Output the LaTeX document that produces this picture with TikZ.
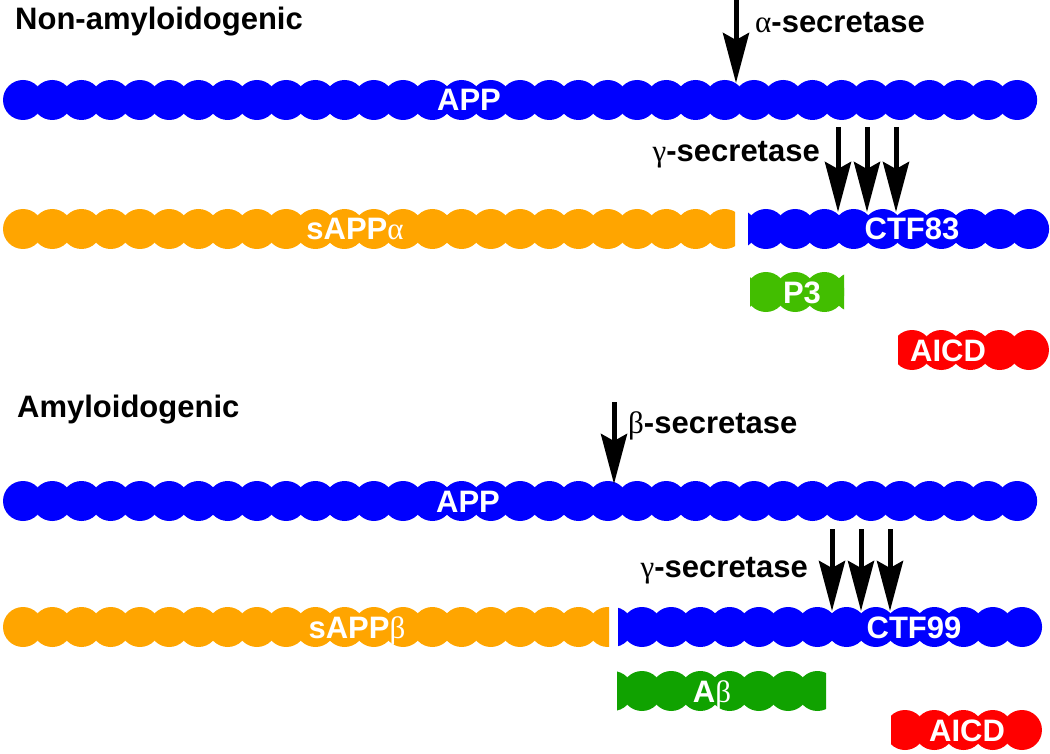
\documentclass[tikz,border=0pt]{standalone}
\usepackage{fontspec}
\setsansfont{Liberation Sans}
\newfontfamily\greekfont{Liberation Serif}
\usepackage{xcolor}
\usepackage{tikz}
\usetikzlibrary{arrows.meta}

\definecolor{appblue}{RGB}{0,0,255}
\definecolor{sappor}{RGB}{255,165,0}
\definecolor{ptgreen}{RGB}{66,190,0}
\definecolor{abgreen}{RGB}{16,162,0}
\definecolor{aicdred}{RGB}{255,0,0}

\newcommand{\gk}[1]{{\greekfont\mdseries #1}}
% colour, y, first bead x, beads, clip left, clip right
\newcommand{\beadrow}[6]{%
	\begin{scope}
		\clip (#5,{#2-22}) rectangle (#6,{#2+22});
		\foreach \k in {1,...,#4}
			\fill[#1] ({#3+(\k-1)*29.24},#2) circle (20pt);
	\end{scope}}

\begin{document}
\begin{tikzpicture}[x=1pt,y=-1pt,
				chainlbl/.style={
					text=white, anchor=base, inner sep=0pt,
					font=\sffamily\bfseries\fontsize{31}{36}\selectfont
				},
				headlbl/.style={
					text=black, inner sep=0pt,
					font=\sffamily\bfseries\fontsize{31}{36}\selectfont
				},
				cut/.style={
					line width=5pt, -{Stealth[length=50pt,width=26pt,inset=7pt]}
				}
				]
				\useasboundingbox (0,0) rectangle (1050,754);
				
				\beadrow{appblue}{100}{23}{35}{0}{1050}
				\beadrow{sappor}{229}{23}{25}{0}{735}
				\beadrow{appblue}{229}{736.7}{11}{748}{1050}
				\beadrow{ptgreen}{292}{736.7}{5}{750}{844}
				\beadrow{aicdred}{350}{912}{5}{898}{1050}
				
				\beadrow{appblue}{501}{23}{35}{0}{1050}
				\beadrow{sappor}{627}{23}{21}{0}{609}
				\beadrow{appblue}{627}{612.7}{15}{618}{1050}
				\beadrow{abgreen}{691}{612.7}{9}{617}{826}
				\beadrow{aicdred}{730}{905}{5}{891}{1050}
				
				\node[headlbl, anchor=base west] (nonamy) at (15,30) {Non-amyloidogenic};
				\node[headlbl, anchor=base west] (amy) at (17,417) {Amyloidogenic};
				
				\node[chainlbl] (app1) at (469,111) {APP};
				\node[chainlbl] (sappa) at (355,240) {sAPP\gk{α}};
				\node[chainlbl] (ctf83) at (912,240) {CTF83};
				\node[chainlbl] (p3) at (802,303) {P3};
				\node[chainlbl] (aicd1) at (948,361) {AICD};
				
				\node[chainlbl] (app2) at (468,512) {APP};
				\node[chainlbl] (sappb) at (357,638) {sAPP\gk{β}};
				\node[chainlbl] (ctf99) at (914,638) {CTF99};
				\node[chainlbl] (abeta) at (712,702) {A\gk{β}};
				\node[chainlbl] (aicd2) at (967,741) {AICD};
				
				\node[headlbl, anchor=base west] (alphasec) at (755,33) {\gk{α}-secretase};
				\node[headlbl, anchor=base east] (gammasec1) at (820,162) {\gk{γ}-secretase};
				\node[headlbl, anchor=base west] (betasec) at (628,433) {\gk{β}-secretase};
				\node[headlbl, anchor=base east] (gammasec2) at (808,577) {\gk{γ}-secretase};
				
				\coordinate (atop) at (736,0);
				\coordinate (acut) at (736,83);
				\draw[cut] (atop) -- (acut);
				\coordinate (btop) at (614,402);
				\coordinate (bcut) at (614,484);
				\draw[cut] (btop) -- (bcut);
				
				\foreach \x [count=\i] in {838,867,896} {
					\coordinate (gtop\i) at (\x,127);
					\coordinate (gcut\i) at (\x,212);
					\draw[cut] (gtop\i) -- (gcut\i);
				}
				\foreach \x [count=\i] in {832,861,890} {
					\coordinate (htop\i) at (\x,529);
					\coordinate (hcut\i) at (\x,611);
					\draw[cut] (htop\i) -- (hcut\i);
				}
\end{tikzpicture}
\end{document}
